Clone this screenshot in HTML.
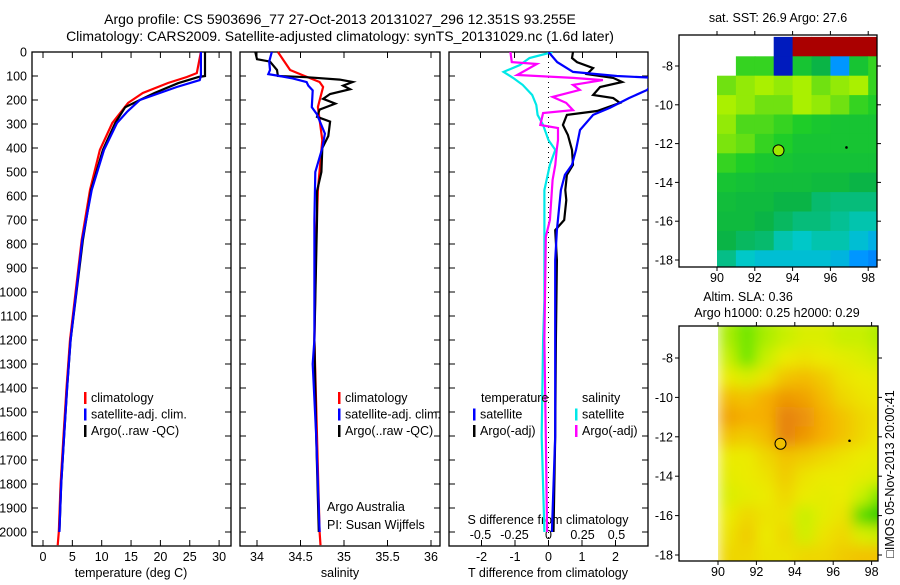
<!DOCTYPE html>
<html><head><meta charset="utf-8"><style>
body{margin:0;background:#fff}
svg text{font-family:"Liberation Sans",sans-serif;font-size:12.5px;fill:#000}
svg text.ttl{font-size:14px}
</style></head><body>
<svg id="c" width="900" height="580" viewBox="0 0 900 580" xmlns="http://www.w3.org/2000/svg">
<defs>
<filter id="bl" x="-0.1" y="-0.1" width="1.2" height="1.2"><feGaussianBlur stdDeviation="7"/></filter>
<clipPath id="cm1"><rect x="679" y="35" width="198" height="232"/></clipPath>
<clipPath id="cm2"><rect x="679" y="326" width="199" height="235"/></clipPath>
<clipPath id="cp3"><rect x="449" y="52" width="199" height="494"/></clipPath>
</defs>
<text class="ttl" x="340" y="24" text-anchor="middle">Argo profile: CS 5903696_77 27-Oct-2013 20131027_296 12.351S 93.255E</text>
<text class="ttl" x="340" y="41" text-anchor="middle">Climatology: CARS2009. Satellite-adjusted climatology: synTS_20131029.nc (1.6d later)</text>
<g id="g"></g>
</svg>
<script>
// ---- data ----
const tClimD=[0,88,104,129,171,212,296,408,575,783,1200,1400,1600,1800,2000,2055];
const tClimV=[26.9,26.2,24.5,21.3,17,14.5,11.8,9.7,8,6.6,4.6,4.0,3.5,3.0,2.7,2.5];
const tSatD=[0,100,117,146,200,250,296,408,575,783,1200,1400,1600,1800,2000];
const tSatV=[26.9,26.9,26.7,22.8,16.5,14.3,12.6,10.4,8.3,6.7,4.7,4.1,3.6,3.1,2.8];
const tArgoD=[0,100,104,130,171,200,230,296,408,575,783,1200,1400,1600,1800,2000];
const tArgoV=[27.6,27.6,26.5,23,19,16.5,14,12.3,10.2,8.2,6.8,4.7,4.1,3.6,3.1,2.8];
const sClimD=[0,75,96,125,146,229,367,575,783,1200,1600,2000,2055];
const sClimV=[34.24,34.38,34.52,34.72,34.76,34.70,34.75,34.70,34.68,34.66,34.69,34.72,34.73];
const sSatD=[0,40,75,92,100,110,125,140,160,230,260,340,400,500,700,1200,1300,1600,2000];
const sSatV=[34.17,34.14,34.15,34.13,34.26,34.41,34.57,34.59,34.64,34.63,34.69,34.78,34.75,34.67,34.66,34.66,34.64,34.68,34.72];
const sArgoD=[0,30,40,75,100,105,115,125,140,155,175,195,215,240,270,290,350,400,500,580,700,1200,1600,2000];
const sArgoV=[33.98,34.0,34.15,34.23,34.24,34.57,34.95,35.1,34.99,35.07,34.84,34.76,34.9,34.72,34.69,34.84,34.82,34.75,34.74,34.69,34.69,34.66,34.68,34.71];
const dtSatD=[0,42,83,100,108,158,192,233,262,325,408,470,512,575,742,867,1200,1600,2000];
const dtSatV=[0,0.26,0.73,2.04,3.2,2.95,2.4,1.83,1.33,0.94,0.82,0.7,0.49,0.37,0.25,0.2,0.2,0.2,0.1];
const dtArgoD=[0,25,42,67,92,108,125,146,179,192,212,246,262,304,346,408,470,512,575,617,700,742,867,1200,1600,2000];
const dtArgoV=[0.73,0.7,0.85,1.33,1.15,1.93,2.2,1.54,1.33,1.93,2.13,1.45,0.55,0.43,0.58,0.7,0.73,0.55,0.5,0.53,0.47,0.2,0.25,0.22,0.2,0.15];
const dsArgoD=[0,42,50,96,108,117,137,158,187,212,242,254,304,317,367,408,470,533,700,770,1200,1600,2000];
const dsArgoV=[-0.28,-0.27,-0.085,-0.23,0.18,0.4,0.18,0.23,0.03,0.13,0.18,-0.04,-0.06,0.07,0.07,0.06,0.05,0.03,0.01,-0.02,-0.03,-0.02,-0.01];
const dsSatD=[0,25,54,83,108,137,179,221,262,304,367,408,470,575,742,1033,1200,1600,2000];
const dsSatV=[0.03,-0.14,-0.21,-0.33,-0.26,-0.19,-0.12,-0.09,-0.08,-0.04,0,0.05,0.01,-0.03,-0.03,-0.03,-0.04,-0.05,-0.03];
const depthTicks=[0,100,200,300,400,500,600,700,800,900,1000,1100,1200,1300,1400,1500,1600,1700,1800,1900,2000];
const tTicks=[0,5,10,15,20,25,30];
const sTicks=[34,34.5,35,35.5,36];
const dtTicks=[-2,-1,0,1,2];
const dsTicks=[-0.5,-0.25,0,0.25,0.5];
const dsTickLabels=["-0.5","-0.25","0","0.25","0.5"];
const mapLatRows=[-7,-8,-9,-10,-11,-12,-13,-14,-15,-16,-17,-18];
const mapLonCols=[90,91,92,93,94,95,96,97,98];
const sst=[
[null,null,null,0.1,1,1,1,1,1],
[null,0.6,0.6,0.1,0.55,0.5,0.3,0.55,0.6],
[0.65,0.68,0.7,0.68,0.7,0.65,0.68,0.7,0.6],
[0.7,0.68,0.65,0.65,0.7,0.68,0.65,0.6,0.58],
[0.68,0.62,0.62,0.6,0.58,0.56,0.55,0.55,0.55],
[0.66,0.64,0.6,0.58,0.55,0.55,0.55,0.55,0.55],
[0.6,0.58,0.56,0.55,0.54,0.54,0.54,0.54,0.54],
[0.55,0.54,0.53,0.53,0.53,0.52,0.52,0.5,0.5],
[0.53,0.52,0.52,0.5,0.5,0.47,0.46,0.46,0.46],
[0.52,0.52,0.5,0.48,0.46,0.46,0.44,0.42,0.42],
[0.5,0.48,0.47,0.42,0.4,0.42,0.42,0.38,0.35],
[0.45,0.4,0.38,0.38,0.38,0.38,0.36,0.3,0.28]];
const sla=[
[0.45,0.35,0.45,0.5,0.55,0.55,0.5,0.5,0.45],
[0.5,0.35,0.5,0.6,0.62,0.6,0.58,0.55,0.5],
[0.6,0.55,0.62,0.7,0.72,0.68,0.62,0.6,0.58],
[0.72,0.7,0.75,0.8,0.78,0.72,0.65,0.62,0.6],
[0.78,0.75,0.75,0.85,0.82,0.75,0.7,0.65,0.62],
[0.7,0.68,0.72,0.85,0.8,0.75,0.7,0.65,0.6],
[0.6,0.6,0.65,0.7,0.68,0.65,0.62,0.6,0.58],
[0.58,0.6,0.62,0.68,0.62,0.6,0.6,0.58,0.55],
[0.55,0.58,0.6,0.65,0.6,0.58,0.6,0.5,0.35],
[0.6,0.65,0.62,0.62,0.5,0.58,0.62,0.3,0.2],
[0.62,0.68,0.6,0.65,0.52,0.62,0.65,0.55,0.5],
[0.65,0.65,0.62,0.62,0.65,0.65,0.68,0.7,0.7]];
const argoLon=93.255, argoLat=-12.351;
const lonTicks=[90,92,94,96,98];
const latTicks=[-8,-10,-12,-14,-16,-18];

// ---- scales ----
const yD=d=>52+d*0.24;
const xT=t=>43+t*5.87;
const xS=s=>257+(s-34)*87;
const xDT=t=>548.5+t*33.5;
const xDS=s=>548.5+s*136;
const NS='http://www.w3.org/2000/svg';
const G=document.getElementById('g');
function el(tag,at,parent){const e=document.createElementNS(NS,tag);for(const k in at)e.setAttribute(k,at[k]);(parent||G).appendChild(e);return e;}
function txt(x,y,s,anchor,parent){const e=el('text',{x:x,y:y,'text-anchor':anchor||'start'},parent);e.textContent=s;return e;}
function line(xs,ds,sx,color,name,parent){
  let p='';for(let i=0;i<ds.length;i++){p+=(i?'L':'M')+sx(xs[i]).toFixed(1)+','+yD(ds[i]).toFixed(1);}
  const e=el('path',{d:p,fill:'none',stroke:color,'stroke-width':2.2,'stroke-linejoin':'miter'},parent);
  
  
}
function panel(x0,x1,name){
  const r=el('rect',{x:x0,y:52,width:x1-x0,height:494,fill:'none',stroke:'#000','stroke-width':1.3});
  
  
  depthTicks.forEach(d=>{el('line',{x1:x0,x2:x0+6,y1:yD(d),y2:yD(d),stroke:'#000'});el('line',{x1:x1-6,x2:x1,y1:yD(d),y2:yD(d),stroke:'#000'});});
}
panel(32,231,'temperature-panel');panel(240,440,'salinity-panel');panel(449,648,'difference-panel');
depthTicks.forEach(d=>{const t=txt(27,yD(d)+4.5,String(d),'end');});
function xticks(arr,sx,labels,top){arr.forEach((v,i)=>{const x=sx(v);el('line',{x1:x,x2:x,y1:546,y2:540,stroke:'#000'});if(top)el('line',{x1:x,x2:x,y1:52,y2:58,stroke:'#000'});const t=txt(x,561,labels[i],'middle');});}
xticks(tTicks,xT,tTicks.map(String),true);
xticks(sTicks,xS,sTicks.map(String),true);
xticks(dtTicks,xDT,dtTicks.map(String),false);
dsTicks.forEach((v,i)=>{const x=xDS(v);el('line',{x1:x,x2:x,y1:52,y2:58,stroke:'#000'});const t=txt(x,539,dsTickLabels[i],'middle');});
[[131,'temperature (deg C)','temperature-axis-title'],[340,'salinity','salinity-axis-title'],[548,'T difference from climatology','t-diff-axis-title']].forEach(a=>{const t=txt(a[0],577,a[1],'middle');});
{const t=txt(548,524,'S difference from climatology','middle');}
{const e=el('line',{x1:548.5,x2:548.5,y1:52,y2:546,stroke:'#000','stroke-dasharray':'1,4'});}
line(tClimV,tClimD,xT,'#ff0000','temp-climatology-line');
line(tArgoV,tArgoD,xT,'#000','temp-argo-line');
line(tSatV,tSatD,xT,'#0000ff','temp-satellite-line');
line(sClimV,sClimD,xS,'#ff0000','sal-climatology-line');
line(sArgoV,sArgoD,xS,'#000','sal-argo-line');
line(sSatV,sSatD,xS,'#0000ff','sal-satellite-line');
const cg=el('g',{'clip-path':'url(#cp3)'});
line(dsSatV,dsSatD,xDS,'#00e8e8','s-diff-satellite-line',cg);
line(dsArgoV,dsArgoD,xDS,'#ff00ff','s-diff-argo-line',cg);
line(dtArgoV,dtArgoD,xDT,'#000','t-diff-argo-line',cg);
line(dtSatV,dtSatD,xDT,'#0000ff','t-diff-satellite-line',cg);
function leg(x,y,color,label){const g=el('g',{});
 if(color)el('rect',{x:x,y:y-10,width:2.5,height:12,fill:color},g);txt(x+7,y,label,'start',g);}
[[84,'#ff0000','climatology'],[84,'#0000ff','satellite-adj. clim.'],[84,'#000','Argo(..raw -QC)']].forEach((a,i)=>leg(a[0],402+i*16.5,a[1],a[2]));
[[338,'#ff0000','climatology'],[338,'#0000ff','satellite-adj. clim.'],[338,'#000','Argo(..raw -QC)']].forEach((a,i)=>leg(a[0],402+i*16.5,a[1],a[2]));
leg(474,402,null,'temperature');leg(473,418.5,'#0000ff','satellite');leg(473,435,'#000','Argo(-adj)');
leg(575,402,null,'salinity');leg(575,418.5,'#00e8e8','satellite');leg(575,435,'#ff00ff','Argo(-adj)');
{const t=txt(327,511,'Argo Australia');
 const u=txt(327,529,'PI: Susan Wijffels');}

function jet(v){const s=[[0,[0,0,110]],[0.15,[0,40,230]],[0.3,[0,150,255]],[0.4,[0,200,200]],[0.5,[10,180,70]],[0.58,[30,205,40]],[0.7,[170,240,0]],[0.8,[240,240,0]],[0.9,[250,140,0]],[1,[170,0,0]]];return interp(s,v);}
function slac(v){const s=[[0.2,[20,200,0]],[0.35,[110,230,0]],[0.5,[200,240,0]],[0.6,[235,235,0]],[0.75,[245,175,0]],[0.85,[230,130,10]]];return interp(s,v);}
function interp(s,v){if(v<=s[0][0])return 'rgb('+s[0][1]+')';for(let i=1;i<s.length;i++){if(v<=s[i][0]){const f=(v-s[i-1][0])/(s[i][0]-s[i-1][0]);const c=s[i-1][1].map((a,k)=>Math.round(a+(s[i][1][k]-a)*f));return 'rgb('+c+')';}}return 'rgb('+s[s.length-1][1]+')';}
function map(o){
 const mg=el('g',{});
 const xL=lon=>o.x90+(lon-90)*o.kx, yL=lat=>o.y8+(-8-lat)*o.ky;
 const cg=el('g',{'clip-path':'url(#'+o.clip+')'},mg);
 const hg=el('g',o.blur?{filter:'url(#bl)'}:{},cg);
 o.data.forEach((row,r)=>row.forEach((v,c)=>{if(v===null)return;
   const lat=mapLatRows[r],lon=mapLonCols[c];
   let x0=xL(lon),x1=xL(lon+1),y0=yL(lat+0.5),y1=yL(lat-0.5);
   if(o.blur){if(r===0)y0-=12;if(r===mapLatRows.length-1)y1+=12;if(c===mapLonCols.length-1)x1+=12;}
   const e=el('rect',{x:x0,y:y0,width:x1-x0+0.6,height:y1-y0+0.6,fill:o.cm(v)},hg);
   
   }));
 const cx=xL(argoLon),cy=yL(argoLat);
 const ci=el('circle',{cx:cx,cy:cy,r:5.5,fill:o.dot,stroke:'#000','stroke-width':1},mg);
 
 el('circle',{cx:xL(96.85),cy:yL(-12.2),r:1.3,fill:'#000'},mg);
 if(o.blur){const m=el('rect',{x:o.x0+1,y:o.y0+1,width:xL(90)-o.x0-1,height:o.h-2,fill:'#fff'},mg);}
 el('rect',{x:o.x0,y:o.y0,width:o.w,height:o.h,fill:'none',stroke:'#000','stroke-width':1.3},mg);
 lonTicks.forEach(l=>{const x=xL(l);el('line',{x1:x,x2:x,y1:o.y0,y2:o.y0-4,stroke:'#000'},mg);el('line',{x1:x,x2:x,y1:o.y0+o.h,y2:o.y0+o.h+4,stroke:'#000'},mg);const t=txt(x,o.y0+o.h+15,String(l),'middle',mg);});
 latTicks.forEach(l=>{const y=yL(l);el('line',{x1:o.x0,x2:o.x0-4,y1:y,y2:y,stroke:'#000'},mg);el('line',{x1:o.x0+o.w,x2:o.x0+o.w+4,y1:y,y2:y,stroke:'#000'},mg);const t=txt(o.x0-6,y+4.5,String(l),'end',mg);});
}
map({name:'sst-map',data:sst,cm:jet,x0:679,y0:35,w:198,h:232,x90:717,kx:18.9,y8:66,ky:19.4,clip:'cm1',blur:false,dot:'#a0e800'});
map({name:'sla-map',data:sla,cm:slac,x0:679,y0:326,w:199,h:235,x90:718,kx:19.2,y8:358,ky:19.7,clip:'cm2',blur:true,dot:'#f0c000'});
{const t=txt(778,22,'sat. SST: 26.9 Argo: 27.6','middle');}
{const t=txt(748,301,'Altim. SLA: 0.36','middle');}
{const t=txt(777,317,'Argo h1000: 0.25 h2000: 0.29','middle');}
{const t=txt(0,0,'\u25A1IMOS 05-Nov-2013 20:00:41','middle');t.setAttribute('transform','translate(894,474) rotate(-90)');}
</script>
</body></html>
